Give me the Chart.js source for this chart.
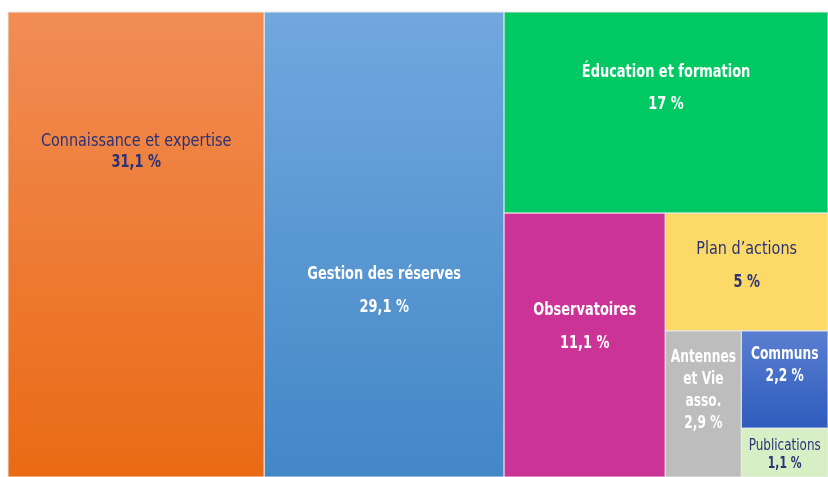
<!DOCTYPE html>
<html>
<head>
<meta charset="utf-8">
<script src="https://cdn.jsdelivr.net/npm/chart.js@4.4.1/dist/chart.umd.min.js"></script>
<style>
  html, body { margin: 0; padding: 0; background: #fff; }
</style>
</head>
<body>
<canvas id="chart" width="828" height="477"></canvas>
<script>
// --- data ---
var categories = ['Connaissance et expertise', 'Gestion des réserves', 'Éducation et formation',
  'Observatoires', 'Plan d’actions', 'Antennes\net Vie\nasso.', 'Communs', 'Publications'];
var shares = [31.1, 29.1, 17, 11.1, 5, 2.9, 2.2, 1.1];
var shareLabels = ['31,1 %', '29,1 %', '17 %', '11,1 %', '5 %', '2,9 %', '2,2 %', '1,1 %'];

// --- look of each box ---
var NAVY = '#2b3175';
var boxStyles = [
  { fill: ['#f18d55', '#ea6a14'], color: NAVY, bold: false, size: 18, gap: 21, anchor: 0.30 },
  { fill: ['#70a8de', '#4387c7'], color: '#fff', bold: true, size: 18, gap: 33, anchor: 0.60 },
  { fill: '#00c963', color: '#fff', bold: true, size: 18, gap: 32, anchor: 0.38 },
  { fill: '#cc3396', color: '#fff', bold: true, size: 18, gap: 33, anchor: 0.43 },
  { fill: '#fdd968', color: NAVY, bold: false, size: 18, gap: 33, anchor: 0.45 },
  { fill: '#bdbdbd', color: '#fff', bold: true, size: 17, gap: 22, anchor: 0.41 },
  { fill: ['#5a7fd1', '#2e5bbd'], color: '#fff', bold: true, size: 17, gap: 22, anchor: 0.36 },
  { fill: '#d8efc5', color: NAVY, bold: false, size: 15, gap: 18, anchor: 0.55 }
];
var FONT = '"Liberation Sans Narrow", "DejaVu Sans Condensed", "Roboto", sans-serif';
// the original face is narrower than what is installed
var SQUEEZE_REGULAR = 0.89, SQUEEZE_BOLD = 0.8;

function sum(a) { return a.reduce(function (s, v) { return s + v; }, 0); }

function worst(row, side) {
  var s = sum(row), mx = Math.max.apply(null, row), mn = Math.min.apply(null, row);
  return Math.max(side * side * mx / (s * s), (s * s) / (side * side * mn));
}

// squarified treemap, rectangles in pixel space
function squarify(values, x, y, w, h) {
  var k = w * h / sum(values);
  var areas = values.map(function (v) { return v * k; });
  var out = [], i = 0;
  while (i < areas.length) {
    var side = Math.min(w, h);
    var row = [areas[i]], j = i + 1;
    while (j < areas.length && worst(row.concat(areas[j]), side) <= worst(row, side)) {
      row.push(areas[j]); j++;
    }
    var s = sum(row);
    if (w >= h) {
      var cw = s / h, cy = y;
      row.forEach(function (a) { out.push({ x: x, y: cy, w: cw, h: a / cw }); cy += a / cw; });
      x += cw; w -= cw;
    } else {
      var rh = s / w, cx = x;
      row.forEach(function (a) { out.push({ x: cx, y: y, w: a / rh, h: rh }); cx += a / rh; });
      y += rh; h -= rh;
    }
    i = j;
  }
  return out;
}

function drawText(ctx, txt, x, y, bold, size) {
  ctx.save();
  ctx.font = (bold ? 'bold ' : '') + size + 'px ' + FONT;
  ctx.translate(x, y);
  ctx.scale(bold ? SQUEEZE_BOLD : SQUEEZE_REGULAR, 1);
  ctx.fillText(txt, 0, 0);
  ctx.restore();
}

var treemapPlugin = {
  id: 'treemap',
  beforeDatasetsDraw: function (chart) {
    var ctx = chart.ctx, xs = chart.scales.x, ys = chart.scales.y;
    var left = xs.getPixelForValue(xs.min), right = xs.getPixelForValue(xs.max);
    var top = ys.getPixelForValue(ys.max), bottom = ys.getPixelForValue(ys.min);
    var rects = squarify(shares, left, top, right - left, bottom - top);

    ctx.save();
    rects.forEach(function (r, i) {
      var st = boxStyles[i];
      var fill = st.fill;
      if (Array.isArray(fill)) {
        var g = ctx.createLinearGradient(0, r.y, 0, r.y + r.h);
        g.addColorStop(0, fill[0]);
        g.addColorStop(1, fill[1]);
        fill = g;
      }
      ctx.fillStyle = fill;
      ctx.fillRect(r.x, r.y, r.w, r.h);
      ctx.strokeStyle = 'rgba(235,235,235,0.8)';
      ctx.lineWidth = 1.2;
      ctx.strokeRect(r.x, r.y, r.w, r.h);
    });

    ctx.textAlign = 'center';
    ctx.textBaseline = 'middle';
    rects.forEach(function (r, i) {
      var st = boxStyles[i];
      var lines = categories[i].split('\n');
      var n = lines.length + 1;
      var cx = r.x + r.w / 2;
      var cy = r.y + r.h * st.anchor;
      var y0 = cy - (n - 1) * st.gap / 2;
      ctx.fillStyle = st.color;
      lines.forEach(function (ln, k) { drawText(ctx, ln, cx, y0 + k * st.gap, st.bold, st.size); });
      drawText(ctx, shareLabels[i], cx, y0 + lines.length * st.gap, true, st.size);
    });
    ctx.restore();
  }
};

new Chart(document.getElementById('chart').getContext('2d'), {
  type: 'scatter',
  data: { datasets: [{ data: [] }] },
  options: {
    responsive: false,
    animation: false,
    layout: { padding: { left: 8, top: 12, right: 0, bottom: 0 } },
    plugins: { legend: { display: false }, tooltip: { enabled: false } },
    scales: {
      x: { display: false, min: 0, max: 100 },
      y: { display: false, min: 0, max: 100 }
    }
  },
  plugins: [treemapPlugin]
});
</script>
</body>
</html>
